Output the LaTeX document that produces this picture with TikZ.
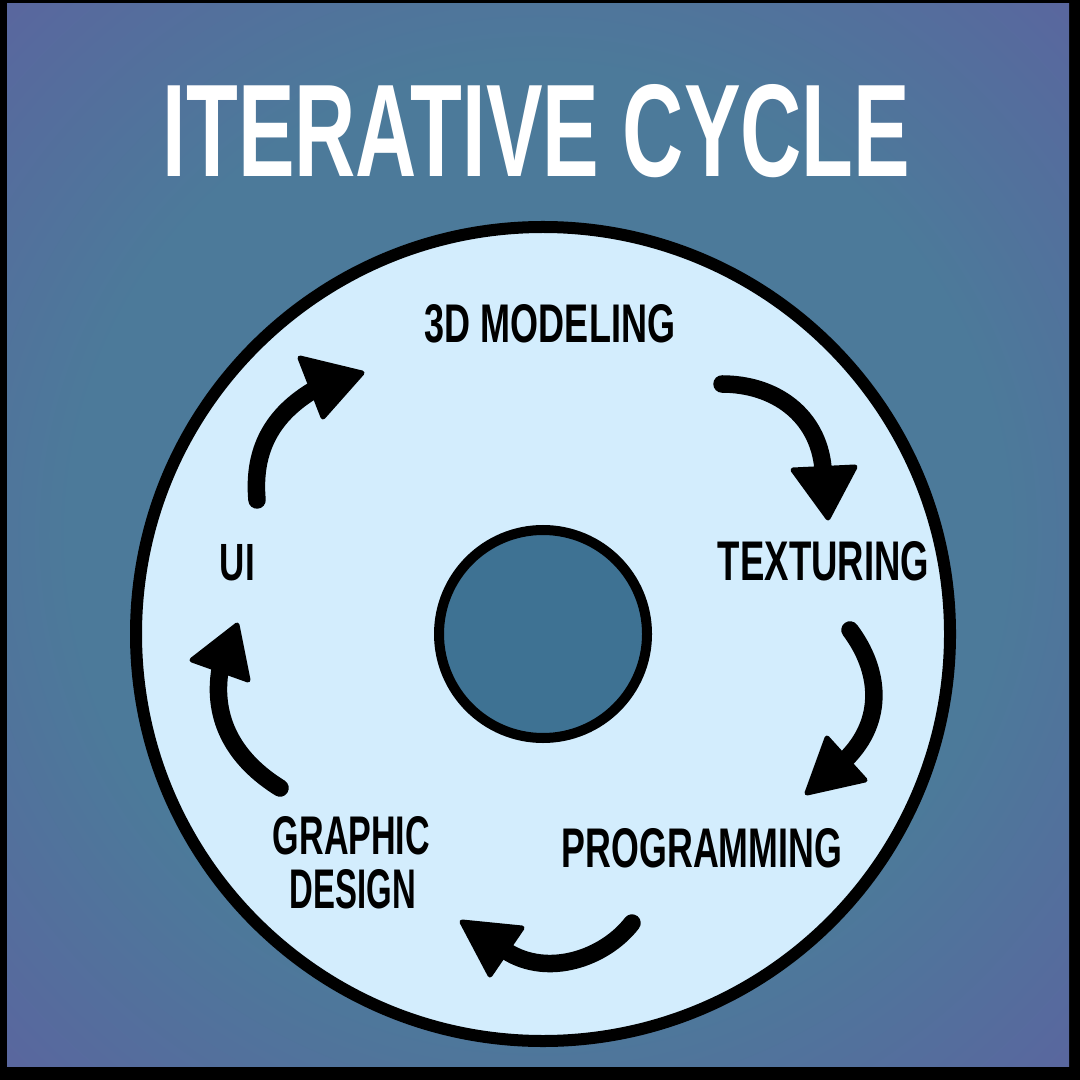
\documentclass[tikz,border=0pt]{standalone}
\usepackage{fontspec}
\usepackage{graphicx}
\setmainfont{Liberation Sans}
\definecolor{bgmid}{HTML}{4C7A9A}
\definecolor{bgedge}{HTML}{6A4EA4}
\definecolor{disc}{HTML}{D3EDFD}
\definecolor{hole}{HTML}{3E7293}
\pgfdeclareradialshading{bgglow}{\pgfpoint{0bp}{0bp}}{color(0bp)=(bgmid); color(22bp)=(bgmid); color(52bp)=(bgedge)}
% squeeze a caps label into a given width and cap height
\newcommand\capsfit[3]{\resizebox{#1}{#2}{\bfseries #3}}
\tikzset{
  lbl/.style={inner sep=0pt, outer sep=0pt, text=black},
  shaft/.style={line width=0.175cm, line cap=round},
  headtri/.style={fill=black, draw=black, line width=0.05cm, line join=round},
}
\begin{document}
\begin{tikzpicture}[x=0.01cm, y=-0.01cm]
\useasboundingbox (0,0) rectangle (1080,1080);
% frame and glowing backdrop
\fill[black] (0,0) rectangle (1080,1080);
\shade[shading=bgglow] (7,4) rectangle (1069,1066);

% title
\node[lbl, text=white] (title) at (536.5,131) {\capsfit{7.47cm}{0.92cm}{ITERATIVE CYCLE}};

% disc with its centre hole
\filldraw[fill=disc, draw=black, line width=0.12cm] (543,634) circle (407);
\filldraw[fill=hole, draw=black, line width=0.10cm] (543,634) circle (104);

% stages of the cycle
\node[lbl] (modeling) at (550,324) {\capsfit{2.50cm}{0.38cm}{3D MODELING}};
\node[lbl] (texturing) at (823.5,561) {\capsfit{2.11cm}{0.39cm}{TEXTURING}};
\node[lbl] (programming) at (702,848.5) {\capsfit{2.80cm}{0.39cm}{PROGRAMMING}};
\node[lbl] (graphic) at (351.5,836) {\capsfit{1.57cm}{0.38cm}{GRAPHIC}};
\node[lbl] (design) at (353,889.5) {\capsfit{1.26cm}{0.39cm}{DESIGN}};
\node[lbl] (ui) at (237.5,562.5) {\capsfit{0.35cm}{0.36cm}{UI}};

% arrow ends: start of shaft, base of head, and head corners
\coordinate (a1s) at (257,500); \coordinate (a1b) at (312,391);
\coordinate (a1p) at (300,358); \coordinate (a1t) at (362,373); \coordinate (a1q) at (323,417);
\coordinate (a2s) at (722,384); \coordinate (a2b) at (823,468);
\coordinate (a2p) at (793,470); \coordinate (a2t) at (828,518); \coordinate (a2q) at (855,467);
\coordinate (a3s) at (850,630); \coordinate (a3b) at (846,759);
\coordinate (a3p) at (827,738); \coordinate (a3t) at (807,793); \coordinate (a3q) at (865,780);
\coordinate (a4s) at (632,923); \coordinate (a4b) at (506,951);
\coordinate (a4p) at (522,928); \coordinate (a4t) at (462,922); \coordinate (a4q) at (490,975);
\coordinate (a5s) at (280,788); \coordinate (a5b) at (220,670);
\coordinate (a5p) at (192,660); \coordinate (a5t) at (237,625); \coordinate (a5q) at (248,680);

% UI -> 3D modeling
\draw[shaft] (a1s) .. controls (253,455) and (268,418) .. (a1b);
\filldraw[headtri] (a1p) -- (a1t) -- (a1q) -- cycle;
% 3D modeling -> texturing
\draw[shaft] (a2s) .. controls (775,384) and (818,415) .. (a2b);
\filldraw[headtri] (a2p) -- (a2t) -- (a2q) -- cycle;
% texturing -> programming
\draw[shaft] (a3s) .. controls (880,670) and (885,720) .. (a3b);
\filldraw[headtri] (a3p) -- (a3t) -- (a3q) -- cycle;
% programming -> graphic design
\draw[shaft] (a4s) .. controls (605,958) and (548,978) .. (a4b);
\filldraw[headtri] (a4p) -- (a4t) -- (a4q) -- cycle;
% graphic design -> UI
\draw[shaft] (a5s) .. controls (235,760) and (212,720) .. (a5b);
\filldraw[headtri] (a5p) -- (a5t) -- (a5q) -- cycle;
\end{tikzpicture}
\end{document}
